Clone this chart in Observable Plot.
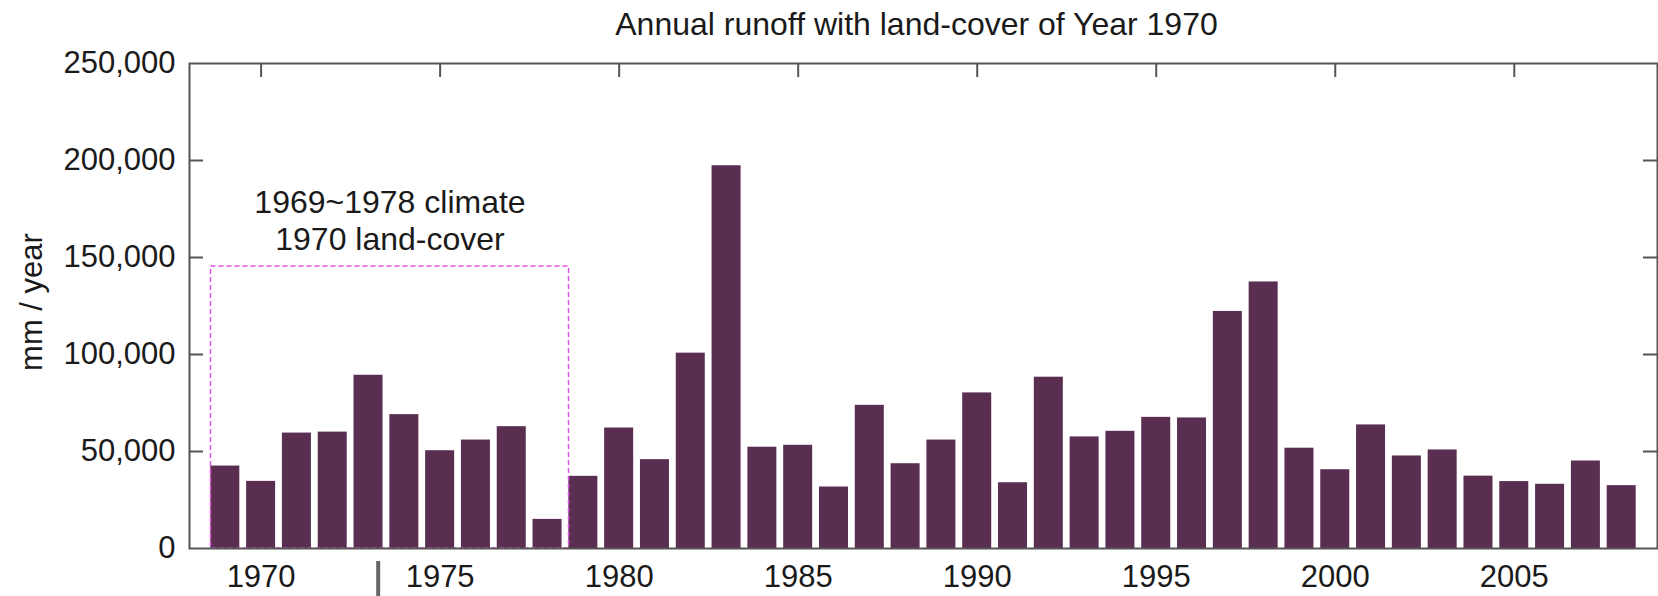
<!DOCTYPE html>
<html>
<head>
<meta charset="utf-8">
<script src="https://cdn.jsdelivr.net/npm/d3@7"></script>
<script src="https://cdn.jsdelivr.net/npm/@observablehq/plot@0.6"></script>
<style>
  html, body { margin: 0; padding: 0; background: #fff; }
  body { width: 1658px; height: 596px; overflow: hidden; font-family: "Liberation Sans", Arial, Helvetica, sans-serif; }
  #title { box-sizing: border-box; width: 1658px; height: 40px; line-height: 48px; padding-left: 175px;
           text-align: center; font-size: 32px; color: #1a1a1a; white-space: nowrap; overflow: visible; }
  #chart svg { overflow: visible; display: block; }
</style>
</head>
<body>
<div id="title">Annual runoff with land-cover of Year 1970</div>
<div id="chart"></div>
<script>
// ---- data ----
const years = [1969, 1970, 1971, 1972, 1973, 1974, 1975, 1976, 1977, 1978,
               1979, 1980, 1981, 1982, 1983, 1984, 1985, 1986, 1987, 1988,
               1989, 1990, 1991, 1992, 1993, 1994, 1995, 1996, 1997, 1998,
               1999, 2000, 2001, 2002, 2003, 2004, 2005, 2006, 2007, 2008];
const runoff = [42500, 34600, 59500, 60000, 89300, 69000, 50400, 55900, 62800, 15000,
                37200, 62100, 45800, 100700, 197300, 52200, 53200, 31700, 73800, 43700,
                55900, 80200, 33900, 88300, 57500, 60400, 67600, 67300, 122200, 137400,
                51700, 40600, 63700, 47700, 50800, 37300, 34500, 33100, 45100, 32400];
const xTicks = [1970, 1975, 1980, 1985, 1990, 1995, 2000, 2005];
const yTicks = [0, 50000, 100000, 150000, 200000, 250000];
const yInnerTicks = [50000, 100000, 150000, 200000];
const xDomain = [1968, 2009];
const yDomain = [0, 250000];
const boxX = [1968.6, 1978.6];     // climate-period box (years)
const boxTop = [145300];           // box top (mm / year)
const noteLines = ["1969~1978 climate", "1970 land-cover"];
const noteY = [178000, 159200];
const noteX = [1973.6];
const separatorX = [1973.27];
const yLabel = "mm / year";

const data = years.map((year, i) => ({year, value: runoff[i]}));

// ---- layout ----
const W = 1658, H = 556;
const mL = 189, mR = 1, mT = 23, mB = 48;
const plotW = W - mL - mR, plotH = H - mT - mB;
const halfBar = 0.405;
const ink = "#1a1a1a", frameCol = "#555";

const chart = Plot.plot({
  width: W, height: H,
  marginLeft: mL, marginRight: mR, marginTop: mT, marginBottom: mB,
  style: {fontFamily: "Liberation Sans, Arial, Helvetica, sans-serif", color: ink, background: "#fff", overflow: "visible"},
  x: {type: "linear", domain: xDomain, axis: null},
  y: {domain: yDomain, axis: null},
  marks: [
    Plot.rectY(data, {x1: d => d.year - halfBar, x2: d => d.year + halfBar, y: "value", fill: "#5a2e50"}),
    Plot.rect([{x1: boxX[0], x2: boxX[1], y2: boxTop[0]}], {
      x1: "x1", x2: "x2", y1: 0, y2: "y2",
      fill: "none", stroke: "#e052e6", strokeWidth: 1.5, strokeDasharray: "5,3"
    }),
    Plot.text(noteLines, {
      x: () => noteX[0], y: (d, i) => noteY[i], text: d => d,
      fontSize: 32, fill: ink, textAnchor: "middle", lineAnchor: "middle"
    }),
    Plot.frame({stroke: frameCol, strokeWidth: 2}),
    // inward ticks: top, left, right
    Plot.tickX(xTicks, {x: d => d, insetBottom: plotH - 14, stroke: frameCol, strokeWidth: 2}),
    Plot.tickY(yInnerTicks, {y: d => d, insetRight: plotW - 14, stroke: frameCol, strokeWidth: 2}),
    Plot.tickY(yInnerTicks, {y: d => d, insetLeft: plotW - 14, stroke: frameCol, strokeWidth: 2}),
    // axes labels
    Plot.axisX({ticks: xTicks, tickFormat: "d", tickSize: 0, tickPadding: 16, fontSize: 31, label: null}),
    Plot.axisY({ticks: yTicks, tickFormat: d3.format(","), tickSize: 0, tickPadding: 14, fontSize: 31, label: null}),
    Plot.text([yLabel], {frameAnchor: "left", dx: -157, dy: -4, rotate: -90, fontSize: 31, fill: ink,
                         textAnchor: "middle", lineAnchor: "middle"}),
    // separator mark below axis
    Plot.tickX(separatorX, {x: d => d, insetTop: plotH + 13, insetBottom: -mB, stroke: "#666", strokeWidth: 4})
  ]
});
document.getElementById("chart").appendChild(chart);
</script>
</body>
</html>
